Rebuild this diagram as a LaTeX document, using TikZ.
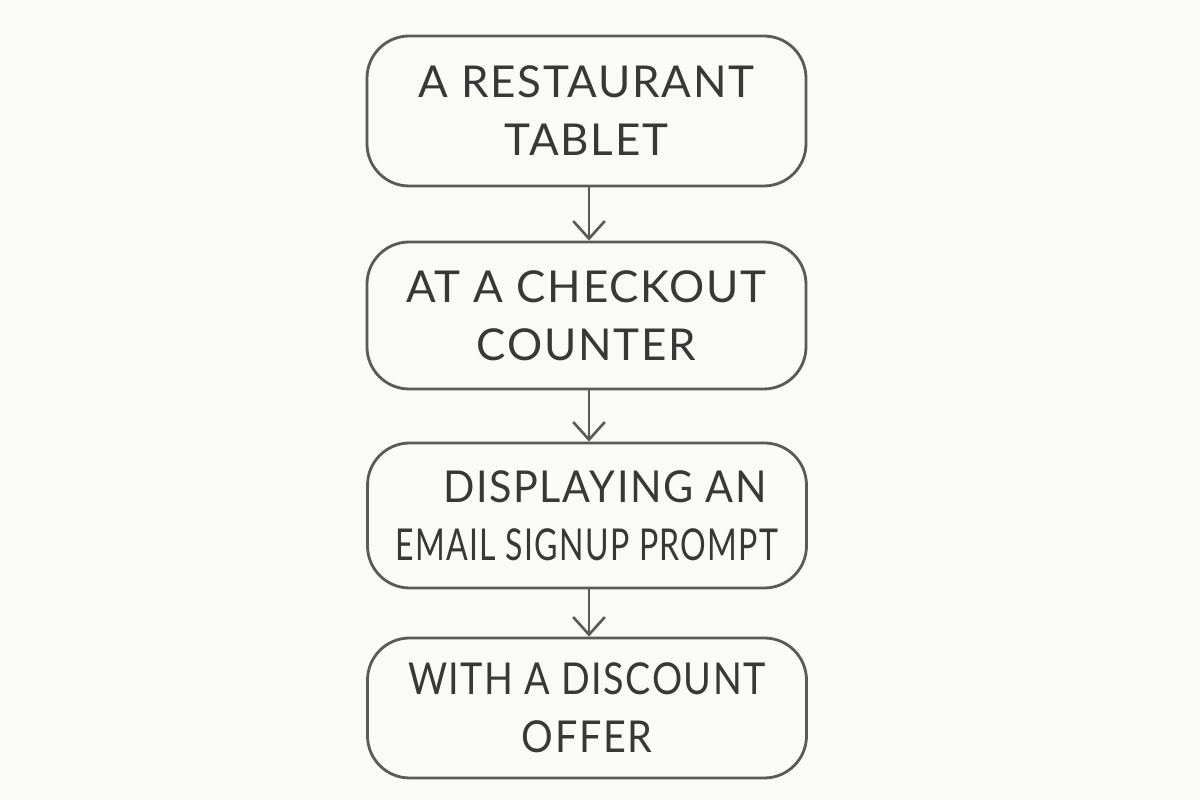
\documentclass[tikz,border=0pt]{standalone}
\usepackage{fontspec}
\usepackage{graphicx}
\setmainfont{Lato}[LetterSpace=4]
\usetikzlibrary{arrows.meta}
\definecolor{pencil}{HTML}{5A5A5A}
\definecolor{paper}{HTML}{FAFAF8}
\newcommand{\squeeze}[2]{\scalebox{#1}[1]{#2}}
\begin{document}
\begin{tikzpicture}

  \tikzset{
    stepbox/.style={draw=pencil, line width=0.8pt, rounded corners=12pt,
      minimum width=4.39cm, align=center, text=black!78,
      font=\fontsize{12.5}{16.5}\selectfont},
    flow/.style={draw=pencil, line width=0.75pt, -{Straight Barb[length=5pt, width=9pt]}}
  }

  \fill[paper] (0, 0) rectangle (12, 8);

  \node[stepbox, minimum height=1.5cm]  (tablet)   at (5.865, 6.89) {A RESTAURANT\\TABLET};
  \node[stepbox, minimum height=1.47cm] (counter)  at (5.865, 4.845) {AT A CHECKOUT\\COUNTER};
  \node[stepbox, minimum height=1.45cm] (prompt)   at (5.87, 2.845)
    {\hspace*{0.36cm}\squeeze{0.94}{DISPLAYING AN}\\\squeeze{0.73}{EMAIL SIGNUP PROMPT}};
  \node[stepbox, minimum height=1.4cm]  (discount) at (5.87, 0.92)
    {\squeeze{0.86}{WITH A DISCOUNT}\\\squeeze{0.9}{OFFER}};

  \draw[flow] (tablet.south -| 5.89, 0)  -- (counter.north -| 5.89, 0);
  \draw[flow] (counter.south -| 5.89, 0) -- (prompt.north -| 5.89, 0);
  \draw[flow] (prompt.south -| 5.89, 0)  -- (discount.north -| 5.89, 0);

\end{tikzpicture}
\end{document}
